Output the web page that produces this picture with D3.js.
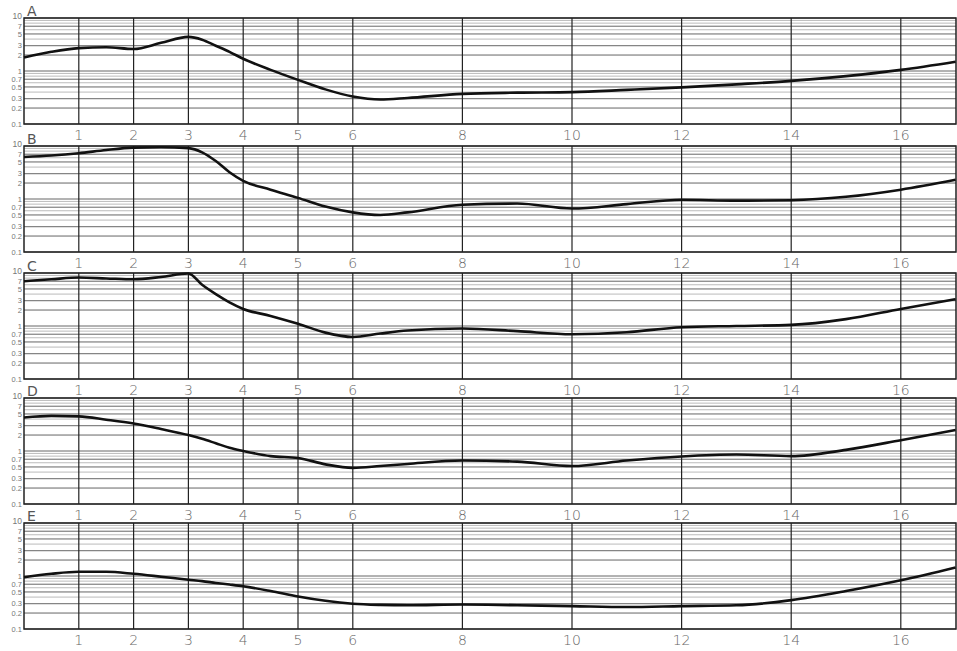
<!DOCTYPE html>
<html>
<head>
<meta charset="utf-8">
<script src="https://cdn.jsdelivr.net/npm/d3@7"></script>
<style>
  body { margin: 0; background: #fff; }
  svg { display: block; }
</style>
</head>
<body>
<div id="chart"></div>
<script>
const width = 957, height = 651,
    panelLeft = 24, panelRight = 956,
    panelTops = [18, 146, 273, 398, 523],
    panelHeight = 106;

const panelNames = ["A", "B", "C", "D", "E"];
const xTicks = [1, 2, 3, 4, 5, 6, 8, 10, 12, 14, 16];
const yLabels = [10, 7, 5, 3, 2, 1, 0.7, 0.5, 0.3, 0.2, 0.1];
const yLabelText = ["10", "7", "5", "3", "2", "1", "0.7", "0.5", "0.3", "0.2", "0.1"];

// points sampled along the x axis (shared by every panel)
const xs = [0, 0.5, 1, 1.5, 2, 2.5, 3, 3.25, 3.5, 3.75, 4, 4.5, 5, 5.5, 6, 6.5, 7, 8, 9, 10, 11, 12, 13, 14, 15, 16, 17];

const seriesA = [1.8, 2.3, 2.7, 2.8, 2.6, 3.4, 4.4, 3.9, 3.0, 2.3, 1.7, 1.05, 0.68, 0.45, 0.33, 0.29, 0.31, 0.37, 0.39, 0.40, 0.44, 0.49, 0.56, 0.65, 0.8, 1.05, 1.5];
const seriesB = [6.2, 6.6, 7.3, 8.4, 9.3, 9.5, 9.1, 7.6, 5.2, 3.2, 2.2, 1.5, 1.05, 0.72, 0.56, 0.5, 0.56, 0.78, 0.82, 0.66, 0.8, 0.97, 0.93, 0.95, 1.1, 1.5, 2.3];
const seriesC = [7.0, 7.6, 8.2, 7.9, 7.6, 8.4, 9.8, 6.0, 4.0, 2.8, 2.1, 1.55, 1.1, 0.75, 0.62, 0.72, 0.82, 0.9, 0.8, 0.7, 0.76, 0.95, 1.0, 1.05, 1.35, 2.1, 3.2];
const seriesD = [4.3, 4.6, 4.5, 3.9, 3.3, 2.6, 2.0, 1.7, 1.4, 1.15, 1.0, 0.8, 0.74, 0.56, 0.48, 0.52, 0.57, 0.66, 0.63, 0.52, 0.66, 0.79, 0.86, 0.8, 1.05, 1.6, 2.5];
const seriesE = [0.95, 1.1, 1.2, 1.2, 1.1, 0.97, 0.85, 0.8, 0.74, 0.69, 0.64, 0.52, 0.41, 0.34, 0.3, 0.285, 0.28, 0.29, 0.28, 0.27, 0.26, 0.27, 0.28, 0.35, 0.52, 0.83, 1.45];
const allSeries = [seriesA, seriesB, seriesC, seriesD, seriesE];

// minor log grid: every integer multiple inside each decade
const gridValues = [];
[0.1, 1].forEach(d => { for (let k = 1; k < 10; k++) gridValues.push(+(d * k).toFixed(2)); });
gridValues.push(10);

const svg = d3.select("#chart").append("svg")
    .attr("width", width)
    .attr("height", height);

const x = d3.scaleLinear()
    .domain([0, 17])
    .range([panelLeft, panelLeft + 17 * 54.8]);

panelNames.forEach((name, p) => {
    const top = panelTops[p];
    const y = d3.scaleLog()
        .domain([0.1, 10])
        .range([top + panelHeight, top]);

    const g = svg.append("g");

    // horizontal grid
    g.selectAll("line.h")
        .data(gridValues)
        .enter().append("line")
        .attr("x1", panelLeft).attr("x2", panelRight)
        .attr("y1", d => y(d)).attr("y2", d => y(d))
        .attr("stroke", d => yLabels.includes(d) ? "#666" : "#aaa")
        .attr("stroke-width", d => yLabels.includes(d) ? 1 : 0.8);

    // vertical grid
    g.selectAll("line.v")
        .data(xTicks)
        .enter().append("line")
        .attr("x1", d => x(d)).attr("x2", d => x(d))
        .attr("y1", top).attr("y2", top + panelHeight)
        .attr("stroke", "#222")
        .attr("stroke-width", 1.2);

    // frame
    g.append("rect")
        .attr("x", panelLeft).attr("y", top)
        .attr("width", panelRight - panelLeft).attr("height", panelHeight)
        .attr("fill", "none")
        .attr("stroke", "#222")
        .attr("stroke-width", 1.5);

    // y labels (small, they sit tight against each other like on the log paper)
    g.selectAll("text.y")
        .data(yLabels)
        .enter().append("text")
        .attr("x", panelLeft - 2)
        .attr("y", d => d === 10 ? y(d) - 1.5 : y(d))
        .attr("dy", "0.35em")
        .attr("text-anchor", "end")
        .style("font-family", "Liberation Sans, Arial, sans-serif")
        .style("font-size", d => d === 10 ? "8.5px" : "7.5px")
        .style("fill", "#777")
        .text((d, i) => yLabelText[i]);

    // x tick labels, under the panel
    g.selectAll("text.x")
        .data(xTicks)
        .enter().append("text")
        .attr("x", d => x(d))
        .attr("y", top + panelHeight + 16)
        .attr("text-anchor", "middle")
        .style("font-family", "DejaVu Sans, sans-serif")
        .style("font-weight", "300")
        .style("font-size", "14px")
        .style("fill", "#666")
        .text(d => d);

    // panel letter
    g.append("text")
        .attr("x", panelLeft + 3)
        .attr("y", top - 2)
        .style("font-family", "DejaVu Sans, sans-serif")
        .style("font-size", "14px")
        .style("fill", "#555")
        .text(name);

    // curve
    const line = d3.line()
        .x((d, i) => x(xs[i]))
        .y(d => y(d))
        .curve(d3.curveMonotoneX);

    g.append("path")
        .datum(allSeries[p])
        .attr("fill", "none")
        .attr("stroke", "#111")
        .attr("stroke-width", 2.6)
        .attr("d", line);
});
</script>
</body>
</html>
